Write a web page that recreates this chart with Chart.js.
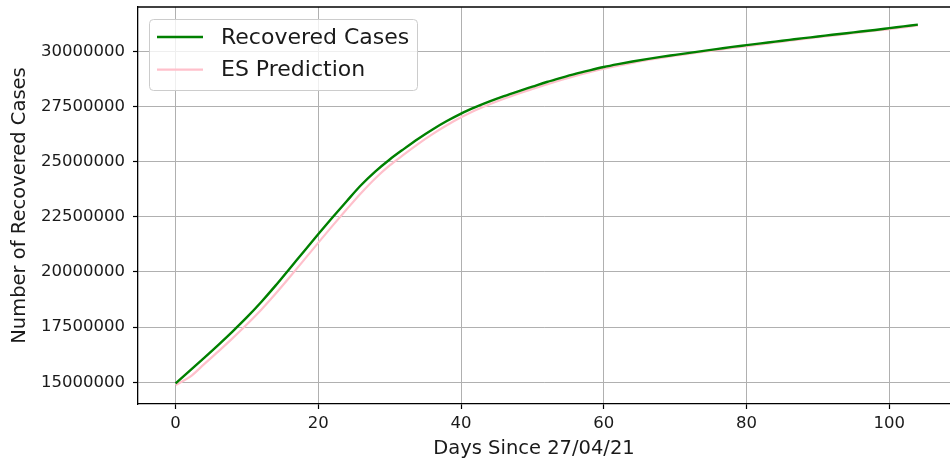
<!DOCTYPE html>
<html>
<head>
<meta charset="utf-8">
<script src="https://cdn.jsdelivr.net/npm/chart.js@4.4.1/dist/chart.umd.min.js"></script>
<style>
  html, body { margin: 0; padding: 0; background: #fff; }
  canvas { display: block; }
</style>
</head>
<body>
<canvas id="c" width="950" height="463"></canvas>
<script>
// ── Data (every 2nd day) ──────────────────────────────────────────
const days = [
  0, 2, 4, 6, 8, 10, 12, 14, 16, 18, 20, 22, 24, 26, 28, 30, 32, 34,
  36, 38, 40, 42, 44, 46, 48, 50, 52, 54, 56, 58, 60, 62, 64, 66, 68,
  70, 72, 74, 76, 78, 80, 82, 84, 86, 88, 90, 92, 94, 96, 98, 100, 102, 104,
];

const recovered = [
  14950000, 15530000, 16110000, 16700000, 17310000, 17950000, 18640000,
  19380000, 20160000, 20940000, 21720000, 22480000, 23220000, 23940000,
  24560000, 25100000, 25580000, 26040000, 26460000, 26840000, 27180000,
  27470000, 27730000, 27970000, 28190000, 28400000, 28610000, 28800000,
  28980000, 29140000, 29290000, 29420000, 29540000, 29650000, 29750000,
  29840000, 29930000, 30020000, 30110000, 30200000, 30280000, 30360000,
  30440000, 30520000, 30600000, 30670000, 30750000, 30820000, 30900000,
  30970000, 31050000, 31130000, 31210000,
];

const esPrediction = [
  14880000, 15240000, 15820000, 16400000, 17000000, 17630000, 18290000,
  19010000, 19770000, 20550000, 21330000, 22100000, 22850000, 23580000,
  24250000, 24830000, 25330000, 25810000, 26250000, 26650000, 27010000,
  27330000, 27600000, 27850000, 28080000, 28300000, 28500000, 28700000,
  28890000, 29060000, 29210000, 29350000, 29480000, 29600000, 29700000,
  29800000, 29890000, 29980000, 30070000, 30160000, 30240000, 30320000,
  30400000, 30480000, 30560000, 30640000, 30710000, 30790000, 30860000,
  30940000, 31010000, 31090000, 31170000,
];

const xTicks = [0, 20, 40, 60, 80, 100];
const yTicks = [15000000, 17500000, 20000000, 22500000, 25000000, 27500000, 30000000];

const FONT = "'DejaVu Sans', sans-serif";
const GRID_COLOR = '#b0b0b0';

// ── Small plugin: top spine, x title, legend box inside the plot ──
const decorations = {
  id: 'decorations',
  afterDraw(chart) {
    const { ctx, chartArea } = chart;
    ctx.save();

    // top spine (right one is cropped off in the reference)
    ctx.strokeStyle = '#000';
    ctx.lineWidth = 1.3;
    ctx.beginPath();
    ctx.moveTo(chartArea.left, chartArea.top);
    ctx.lineTo(chartArea.right, chartArea.top);
    ctx.stroke();

    // x axis title
    ctx.fillStyle = '#1a1a1a';
    ctx.font = `19.5px ${FONT}`;
    ctx.textAlign = 'center';
    ctx.textBaseline = 'middle';
    ctx.fillText('Days Since 27/04/21', 534, 449);

    // legend
    const bx = 149, by = 19, bw = 268, bh = 71, r = 4;
    ctx.beginPath();
    ctx.roundRect(bx + 0.5, by + 0.5, bw, bh, r);
    ctx.fillStyle = 'rgba(255,255,255,0.8)';
    ctx.fill();
    ctx.strokeStyle = '#cccccc';
    ctx.lineWidth = 1;
    ctx.stroke();

    ctx.font = `22px ${FONT}`;
    ctx.textAlign = 'left';
    chart.data.datasets.forEach((ds, i) => {
      const y = 37 + i * 32.6;
      ctx.strokeStyle = ds.borderColor;
      ctx.lineWidth = ds.borderWidth;
      ctx.beginPath();
      ctx.moveTo(157, y);
      ctx.lineTo(203, y);
      ctx.stroke();
      ctx.fillStyle = '#1a1a1a';
      ctx.fillText(ds.label, 221, y + 1);
    });

    ctx.restore();
  }
};

new Chart(document.getElementById('c'), {
  type: 'line',
  data: {
    datasets: [
      {
        label: 'Recovered Cases',
        data: days.map((d, i) => ({ x: d, y: recovered[i] })),
        borderColor: '#008000',
        borderWidth: 2.4,
        pointRadius: 0,
        cubicInterpolationMode: 'monotone',
        fill: false,
      },
      {
        label: 'ES Prediction',
        data: days.map((d, i) => ({ x: d, y: esPrediction[i] })),
        borderColor: '#ffc0cb',
        borderWidth: 2.2,
        pointRadius: 0,
        cubicInterpolationMode: 'monotone',
        fill: false,
      },
    ]
  },
  options: {
    responsive: false,
    animation: false,
    layout: { padding: { top: 7, right: 0, bottom: 0, left: 0 } },
    plugins: {
      legend: { display: false },
      tooltip: { enabled: false },
    },
    scales: {
      x: {
        type: 'linear',
        min: -5.27,
        max: 108.5,
        afterFit: s => { s.height = 59; s.paddingLeft = 0; s.paddingRight = 0; },
        afterBuildTicks: s => { s.ticks = xTicks.map(v => ({ value: v })); },
        grid: { color: GRID_COLOR, lineWidth: 1, tickLength: 5, tickColor: '#000', tickWidth: 1.2 },
        border: { color: '#000', width: 1.3 },
        ticks: {
          color: '#1a1a1a',
          font: { family: FONT, size: 16.5 },
          padding: 5,
          maxRotation: 0,
          callback: v => String(v),
        },
      },
      y: {
        type: 'linear',
        min: 14015000,
        max: 32010000,
        afterFit: s => { s.width = 138; s.paddingTop = 0; s.paddingBottom = 0; },
        afterBuildTicks: s => { s.ticks = yTicks.map(v => ({ value: v })); },
        grid: { color: GRID_COLOR, lineWidth: 1, tickLength: 5, tickColor: '#000', tickWidth: 1.2 },
        border: { color: '#000', width: 1.3 },
        ticks: {
          color: '#1a1a1a',
          font: { family: FONT, size: 16.5 },
          padding: 8,
          callback: v => String(v),
        },
        title: {
          display: true,
          text: 'Number of Recovered Cases',
          color: '#1a1a1a',
          font: { family: FONT, size: 19.5 },
          padding: { top: 8, bottom: 0 },
        },
      },
    },
  },
  plugins: [decorations],
});
</script>
</body>
</html>
